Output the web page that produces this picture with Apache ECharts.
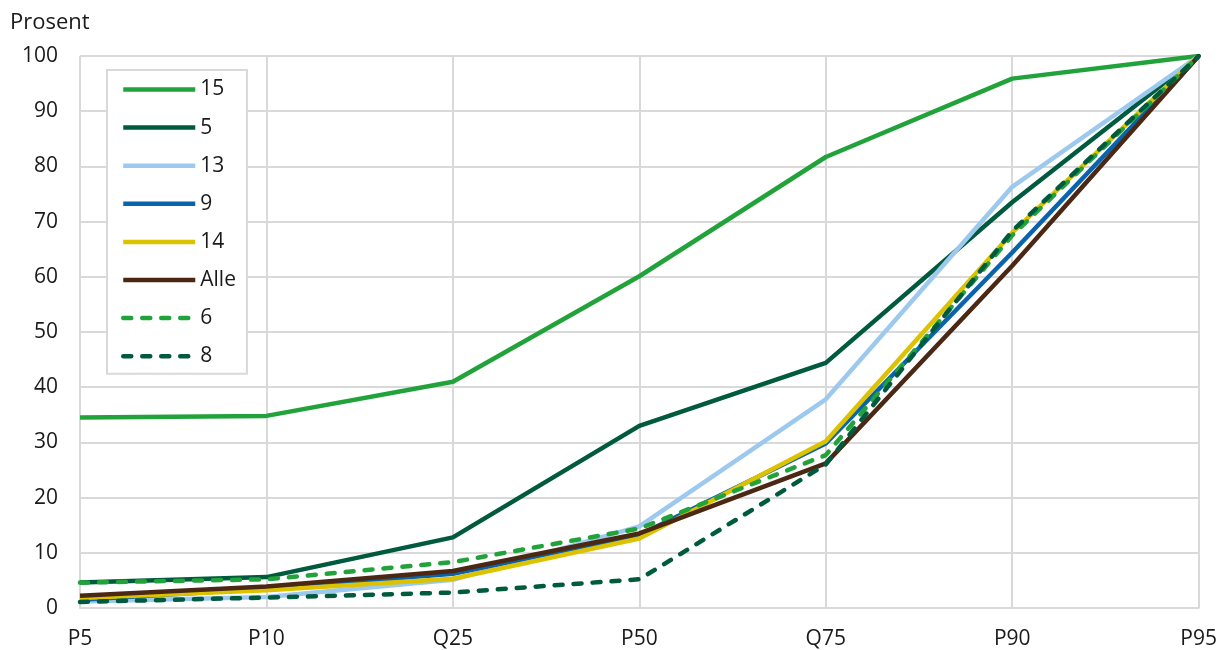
<!DOCTYPE html>
<html>
<head>
<meta charset="utf-8">
<script src="https://cdn.jsdelivr.net/npm/echarts@6/dist/echarts.min.js"></script>
<style>
  html, body { margin: 0; padding: 0; background: #fff; }
  #chart { width: 1220px; height: 650px; }
</style>
</head>
<body>
<div id="chart"></div>
<script>
// Percentile categories along the x axis
const categories = ['P5', 'P10', 'Q25', 'P50', 'Q75', 'P90', 'P95'];

// Cumulative share (prosent) per group
const s15   = [34.5, 34.8, 41.0, 60.1, 81.7, 95.9, 100];
const s5    = [4.6, 5.6, 12.8, 33.0, 44.4, 73.5, 100];
const s13   = [1.2, 2.0, 5.1, 14.8, 37.8, 76.3, 100];
const s9    = [1.5, 3.5, 6.2, 13.2, 29.8, 64.4, 100];
const s14   = [1.8, 3.2, 5.3, 12.6, 30.2, 68.0, 100];
const sAlle = [2.2, 3.9, 6.7, 13.5, 26.2, 62.0, 100];
const s6    = [4.6, 5.2, 8.3, 14.4, 27.7, 67.5, 100];
const s8    = [1.1, 1.9, 2.8, 5.2, 26.0, 68.3, 100];

const seriesDefs = [
  { name: '15',   data: s15,   color: '#22a23a', dashed: false },
  { name: '5',    data: s5,    color: '#005a3e', dashed: false },
  { name: '13',   data: s13,   color: '#9dc9ee', dashed: false },
  { name: '9',    data: s9,    color: '#0a63ad', dashed: false },
  { name: '14',   data: s14,   color: '#dcc200', dashed: false },
  { name: 'Alle', data: sAlle, color: '#4b2814', dashed: false },
  { name: '6',    data: s6,    color: '#22a23a', dashed: true },
  { name: '8',    data: s8,    color: '#005a3e', dashed: true }
];

const textColor = '#1a1a1a';
const gridColor = '#d9d9d9';
const font = '"Open Sans", "Noto Sans", sans-serif';
const fs = 21;
const lw = 4.5;

// Rounded dashes: short dash segments that the round caps lengthen
function lineStyleFor(d) {
  return d.dashed
    ? { color: d.color, width: lw, type: [8, 11], cap: 'round' }
    : { color: d.color, width: lw, type: 'solid', cap: 'butt' };
}

const chart = echarts.init(document.getElementById('chart'), null, { renderer: 'canvas' });

chart.setOption({
  animation: false,
  backgroundColor: '#ffffff',
  textStyle: { fontFamily: font },
  graphic: [{
    type: 'text',
    left: 10,
    top: 12,
    style: { text: 'Prosent', font: '22px ' + font, fill: textColor }
  }],
  legend: {
    orient: 'vertical',
    left: 107,
    top: 70,
    padding: [9, 11, 7, 14],
    itemWidth: 72,
    itemHeight: 20,
    itemGap: 17.1,
    borderColor: gridColor,
    borderWidth: 2,
    backgroundColor: '#ffffff',
    itemStyle: { opacity: 0 },
    lineStyle: { width: lw },
    textStyle: { fontSize: fs, lineHeight: 20, color: textColor, fontFamily: font },
    data: seriesDefs.map(d => d.name)
  },
  grid: { left: 80, right: 20, top: 56, bottom: 40, containLabel: false },
  xAxis: {
    type: 'category',
    data: categories,
    boundaryGap: false,
    axisLine: { show: true, lineStyle: { color: gridColor, width: 2 } },
    axisTick: { show: false },
    axisLabel: { fontSize: fs, color: textColor, margin: 21, fontFamily: font },
    splitLine: { show: true, lineStyle: { color: gridColor, width: 2 } }
  },
  yAxis: {
    type: 'value',
    min: 0,
    max: 100,
    interval: 10,
    axisLine: { show: false },
    axisTick: { show: false },
    axisLabel: { fontSize: fs, color: textColor, margin: 22, fontFamily: font },
    splitLine: { show: true, lineStyle: { color: gridColor, width: 2 } }
  },
  series: seriesDefs.map(d => ({
    name: d.name,
    type: 'line',
    data: d.data,
    symbol: 'none',
    color: d.color,
    lineStyle: lineStyleFor(d),
    emphasis: { disabled: true }
  }))
});
</script>
</body>
</html>
